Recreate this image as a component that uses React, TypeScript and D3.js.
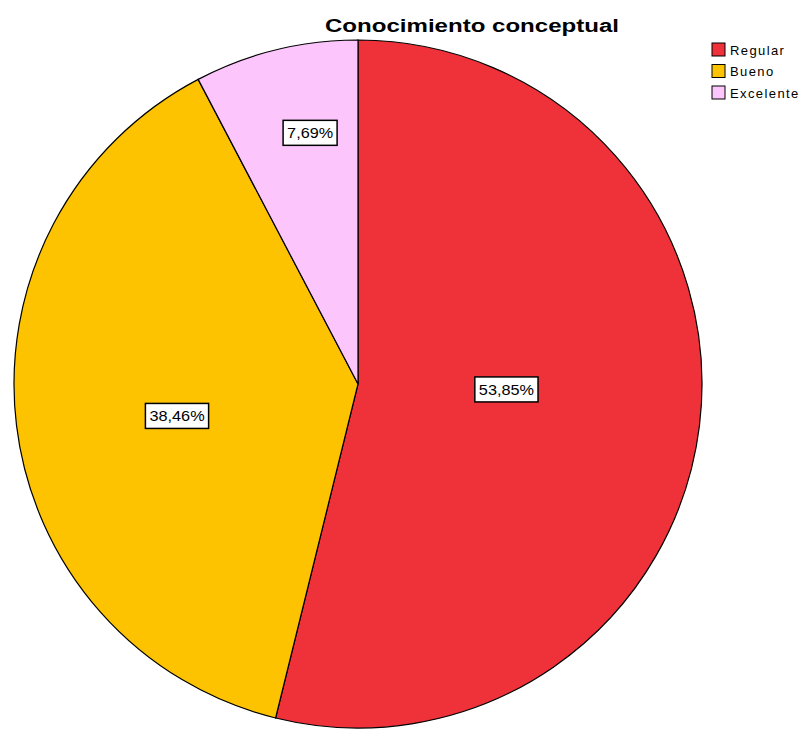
import React from "react";
import * as d3 from "d3";

const categories = ["Regular", "Bueno", "Excelente"];
const percentages = [53.85, 38.46, 7.69];
const percentLabels = ["53,85%", "38,46%", "7,69%"];
const colors = ["#EF3139", "#FDC300", "#FCC6FC"];

const W = 803;
const H = 733;
const CX = 358;
const CY = 384;
const R = 344;
const LABEL_RADIUS = [0.42, 0.53, 0.74];
const LABEL_NUDGE: [number, number][] = [[5, -12], [0, 10], [13, -4]];

export default function App() {
  const pie = d3.pie<number>().sort(null).value((d) => d)(percentages);
  const arc = d3.arc<d3.PieArcDatum<number>>().innerRadius(0).outerRadius(R);
  const font = "'Liberation Sans', Arial, sans-serif";
  return (
    <svg width={W} height={H} style={{ position: "absolute", left: 0, top: 0, background: "#fff" }}>
      <text x={472} y={32} textAnchor="middle" fontFamily={font} fontWeight="bold" fontSize={18}
        textLength={294} lengthAdjust="spacingAndGlyphs" fill="#000">
        Conocimiento conceptual
      </text>
      <g transform={`translate(${CX},${CY})`}>
        {pie.map((p, i) => (
          <path key={i} d={arc(p) || ""} fill={colors[i]} stroke="#000" strokeWidth={1.2} />
        ))}
        {pie.map((p, i) => {
          const mid = (p.startAngle + p.endAngle) / 2;
          const rr = R * LABEL_RADIUS[i];
          const x = Math.sin(mid) * rr + LABEL_NUDGE[i][0];
          const y = -Math.cos(mid) * rr + LABEL_NUDGE[i][1];
          const tw = percentLabels[i].length * 9.2;
          const bw = tw + 8;
          const bh = 25;
          return (
            <g key={"l" + i} transform={`translate(${x},${y})`}>
              <rect x={-bw / 2} y={-bh / 2} width={bw} height={bh} fill="#fff" stroke="#000" strokeWidth={1.5} />
              <text x={0} y={5.5} textAnchor="middle" fontFamily={font} fontSize={15} fill="#000"
                textLength={tw} lengthAdjust="spacingAndGlyphs">
                {percentLabels[i]}
              </text>
            </g>
          );
        })}
      </g>
      <g transform="translate(712,43)">
        {categories.map((c, i) => (
          <g key={c} transform={`translate(0,${i * 21.5})`}>
            <rect x={0} y={0} width={13} height={13} fill={colors[i]} stroke="#000" strokeWidth={1} />
            <text x={18} y={11.5} fontFamily={font} fontSize={13} fill="#000" letterSpacing={1.4}>
              {c}
            </text>
          </g>
        ))}
      </g>
    </svg>
  );
}
